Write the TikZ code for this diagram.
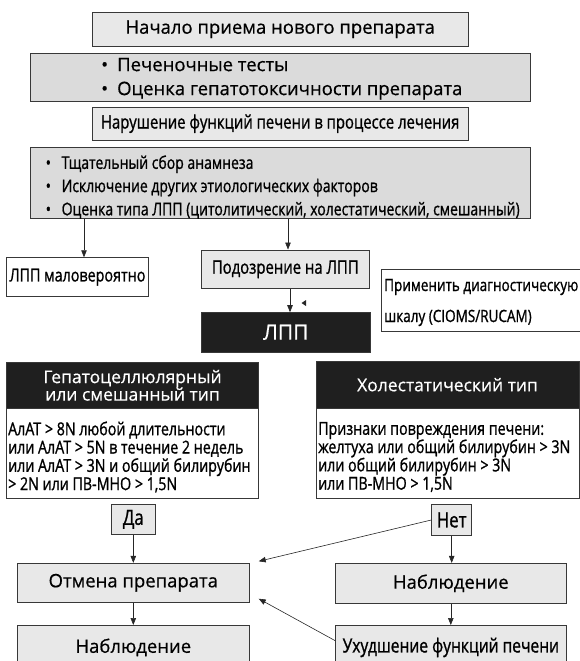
\documentclass[tikz,border=0pt]{standalone}
\usepackage{fontspec}
\setmainfont{Open Sans}[FakeBold=0.6]
\newfontfamily\condf[FakeStretch=0.8,FakeBold=1.0]{Open Sans}
\usetikzlibrary{arrows.meta,calc}
\newcommand\bltR{\makebox[16pt][l]{•}}
\newcommand\bltC{\makebox[16pt][l]{•}}
\tikzset{
  box/.style={draw=black!78, line width=0.85pt, inner sep=0pt},
  lgray/.style={box, fill=black!9},
  mgray/.style={box, fill=black!14},
  wbox/.style={box, fill=white},
  dbox/.style={box, fill=black!88, text=white},
  txt/.style={inner sep=0pt},
  arr/.style={-{Triangle[length=7pt,width=5.5pt]}, line width=0.6pt, draw=black!85},
  reg/.style={font=\fontsize{18.5}{24}\selectfont},
  regh/.style={font=\fontsize{17.5}{17.5}\selectfont},
  cnd/.style={font=\condf\fontsize{17.5}{23.2}\selectfont},
  cndL/.style={font=\condf\fontsize{18.6}{23.2}\selectfont},
  cndX/.style={font=\condf\fontsize{21}{21}\selectfont},
  cndb/.style={font=\condf\fontsize{17.8}{18.3}\selectfont},
}
\begin{document}
\begin{tikzpicture}[x=1pt,y=-1pt]
\useasboundingbox (0,0) rectangle (580,661);

\node[lgray, minimum width=375.7, minimum height=33.3, reg] (start) at (280.2,29.3) {Начало приема нового препарата};

\node[mgray, minimum width=499.3, minimum height=47.7] (tests) at (280.3,77.2) {};
\node[txt, reg, anchor=west, align=left] (testsT) at (101,78.7) {\bltR Печеночные тесты\\\bltR Оценка гепатотоксичности препарата};

\node[lgray, minimum width=375.7, minimum height=32.7, cndL] (viol) at (280.2,123.7) {Нарушение функций печени в процессе лечения};

\node[mgray, minimum width=499.3, minimum height=70.6] (anam) at (280.3,183) {};
\node[txt, cnd, anchor=west, align=left] (anamT) at (45.5,187) {\bltC Тщательный сбор анамнеза\\\bltC Исключение других этиологических факторов\\\bltC Оценка типа ЛПП (цитолитический, холестатический, смешанный)};

\node[wbox, minimum width=141.6, minimum height=39, font=\condf\fontsize{17.9}{17.9}\selectfont] (unlikely) at (77.5,277.2) {ЛПП маловероятно};
\node[lgray, minimum width=167.3, minimum height=38.7, cndL] (susp) at (285.3,269.3) {Подозрение на ЛПП};

\node[wbox, anchor=north west, minimum width=215, minimum height=62.3] (scale) at (380.7,268.7) {};
\node[txt, anchor=west, align=left, font=\condf\fontsize{16.9}{31}\selectfont] (scaleT) at (384,302.5) {Применить диагностическую\\шкалу (CIOMS/RUCAM)};

\node[dbox, minimum width=168.3, minimum height=39.3, font=\fontsize{21}{21}\selectfont] (dili) at (285.8,332.3) {ЛПП};

\node[dbox, minimum width=251.6, minimum height=45.3, regh, align=center] (hepH) at (132.5,385.3) {Гепатоцеллюлярный\\или смешанный тип};
\node[wbox, anchor=north, minimum width=251.6, minimum height=90] (hepB) at (hepH.south) {};
\node[txt, cndb, anchor=west, align=left] (hepT) at (8,457) {АлАТ > 8N любой длительности\\или АлАТ > 5N в течение 2 недель\\или АлАТ > 3N и общий билирубин\\> 2N или ПВ-МНО > 1,5N};

\node[dbox, minimum width=263, minimum height=46.7, regh] (cholH) at (447.5,384.7) {Холестатический тип};
\node[wbox, anchor=north, minimum width=263, minimum height=90] (cholB) at (cholH.south) {};
\node[txt, cndb, anchor=west, align=left] (cholT) at (318,457) {Признаки повреждения печени:\\желтуха или общий билирубин > 3N\\или общий билирубин > 3N\\или ПВ-МНО > 1,5N};

\node[lgray, minimum width=43.3, minimum height=30, cndX] (yes) at (133.3,519.3) {Да};
\node[lgray, minimum width=40, minimum height=31.4, cndX] (no) at (451.7,520) {Нет};

\node[lgray, minimum width=232, minimum height=39, reg] (cancel) at (133.3,582.8) {Отмена препарата};
\node[lgray, anchor=north, minimum width=232, minimum height=44, reg] (obsL) at (133.3,625) {Наблюдение};
\node[lgray, minimum width=230.3, minimum height=40, reg] (obsR) at (450.8,583.3) {Наблюдение};
\node[lgray, anchor=north, minimum width=230.3, minimum height=44, font=\condf\fontsize{19.5}{19.5}\selectfont] (worse) at (450.8,625) {Ухудшение функций печени};

\coordinate (aL) at (84,0);
\coordinate (aM) at (288,0);
\coordinate (aS) at (290,0);
\draw[arr] (anam.south -| aL) -- (unlikely.north -| aL);
\draw[arr] (anam.south -| aM) -- (susp.north -| aM);
\draw[arr] (susp.south -| aS) -- (dili.north -| aS);
\fill[black!85] (301.5,303) -- (306,300) -- (306,306) -- cycle;

\draw[arr] (yes.south) -- (cancel.north);
\draw[arr] (cancel.south) -- (obsL.north);
\draw[arr] (no.south) -- (no.south |- obsR.north);
\draw[arr] (obsR.south) -- (worse.north);
\draw[arr] (no.west) -- ($(cancel.north east)+(9,-1.6)$);
\draw[arr] ($(worse.north west)+(0,15.7)$) -- ($(cancel.south east)+(9,-4)$);
\end{tikzpicture}
\end{document}
